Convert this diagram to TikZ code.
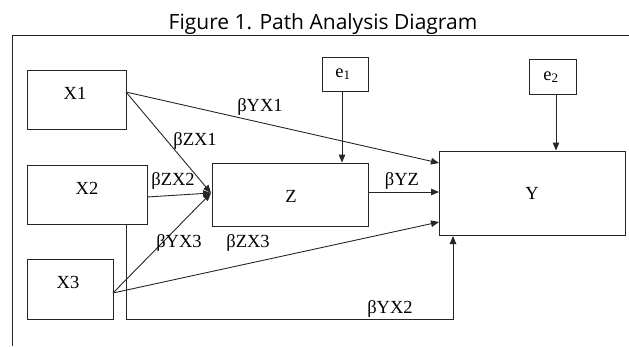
\documentclass[tikz,border=0pt]{standalone}
\usepackage{fontspec}
\setmainfont{Liberation Serif}
\newfontfamily\titlefont{Open Sans}
\usetikzlibrary{arrows.meta}
\begin{document}
\begin{tikzpicture}[x=1pt,y=-1pt,
  box/.style={draw=black!85,line width=0.9pt,rectangle,inner sep=0pt},
  lbl/.style={font=\fontsize{18.5}{18.5}\selectfont,inner sep=0pt},
  conn/.style={draw=black!85,line width=0.9pt},
  arr/.style={conn,-{Triangle[length=8pt,width=6.5pt]}}]
\useasboundingbox (0,0) rectangle (629,346);
% title and frame
\node[font=\titlefont\fontsize{21}{21}\selectfont,anchor=base,inner sep=0pt] (title) at (323,29) {Figure 1. Path Analysis Diagram};
\draw[conn] (629,35) -- (12,35) -- (12,346);
% boxes
\node[box,minimum width=99pt,minimum height=59pt] (X1) at (76.5,99.5) {};
\node[box,minimum width=120pt,minimum height=59pt] (X2) at (87,194.5) {};
\node[box,minimum width=86pt,minimum height=60pt] (X3) at (70,289) {};
\node[box,minimum width=156pt,minimum height=63pt] (Z) at (290,194.5) {};
\node[box,minimum width=186pt,minimum height=84pt] (Y) at (532,193) {};
\node[box,minimum width=46pt,minimum height=34pt] (e1) at (345,74) {};
\node[box,minimum width=47pt,minimum height=35pt] (e2) at (552.5,76.5) {};
% box labels
\node[lbl] (tX1) at (75,93) {X1};
\node[lbl] (tX2) at (87,188) {X2};
\node[lbl] (tX3) at (68,282) {X3};
\node[lbl] (tZ) at (291,196) {Z};
\node[lbl] (tY) at (532,193) {Y};
\node[lbl] (te1) at (343,74) {e\textsubscript{1}};
\node[lbl] (te2) at (551,77) {e\textsubscript{2}};
% connector anchor points
\coordinate (x1o) at (126,92);
\coordinate (x2o) at (147,197);
\coordinate (x3o) at (113,293);
\coordinate (zin) at (211,193);
\coordinate (yinA) at (439,163);
\coordinate (yinB) at (439,192);
\coordinate (yinC) at (439,222);
\coordinate (zout) at (368,192);
\coordinate (x2b) at (126,224);
\coordinate (c1) at (126,319);
\coordinate (c2) at (453,319);
\coordinate (ybot) at (453,236);
% connectors
\draw[arr] (x1o) -- (yinA);
\draw[arr] (x1o) -- (zin);
\draw[arr] (x2o) -- (zin);
\draw[arr] (x3o) -- (zin);
\draw[arr] (x3o) -- (yinC);
\draw[arr] (zout) -- (yinB);
\draw[arr] (e1.south -| 342,0) -- (Z.north -| 342,0);
\draw[arr] (e2.south -| 556,0) -- (Y.north -| 556,0);
\draw[arr] (x2b) -- (c1) -- (c2) -- (ybot);
% path labels
\node[lbl] (lYX1) at (260,107) {βYX1};
\node[lbl] (lZX1) at (195,141) {βZX1};
\node[lbl] (lZX2) at (173,181) {βZX2};
\node[lbl] (lYX3) at (179,243) {βYX3};
\node[lbl] (lZX3) at (248,243) {βZX3};
\node[lbl] (lYZ) at (402,181) {βYZ};
\node[lbl] (lYX2) at (390,309) {βYX2};
\end{tikzpicture}
\end{document}
